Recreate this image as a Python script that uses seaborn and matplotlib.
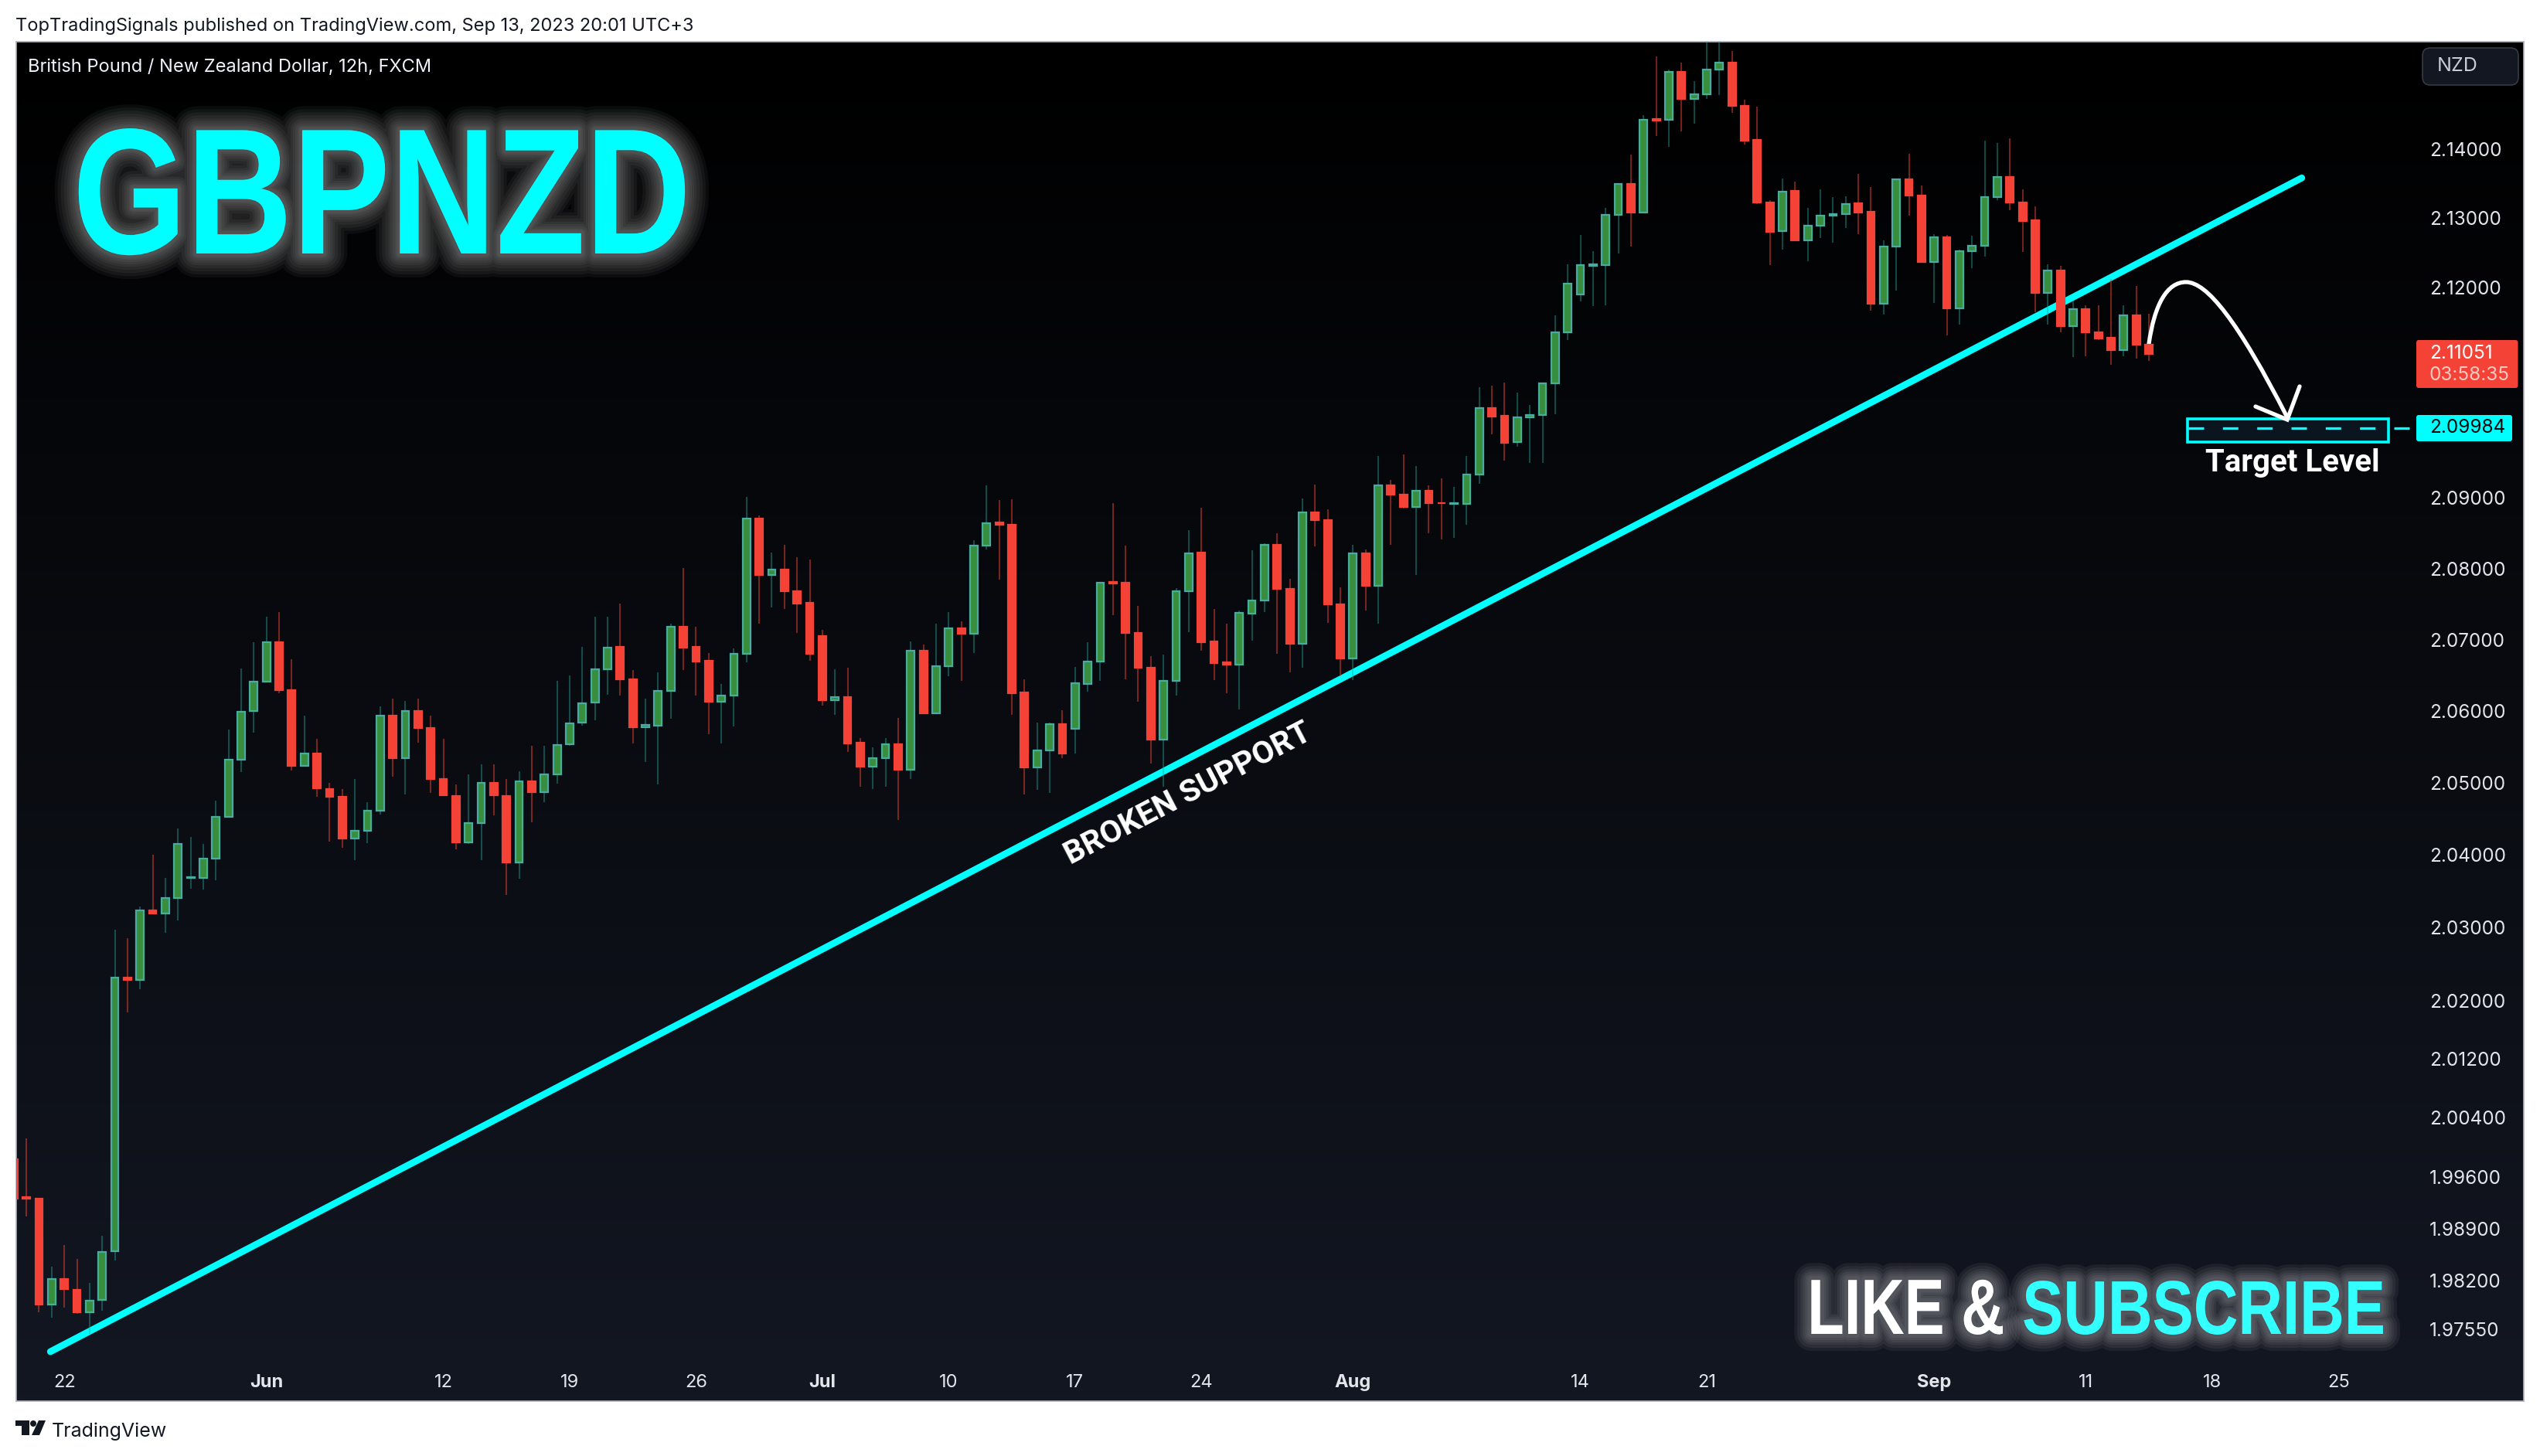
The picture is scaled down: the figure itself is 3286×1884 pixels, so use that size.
#!/usr/bin/env python3
"""GBPNZD 12h candlestick chart with broken support line and target level."""

import matplotlib
matplotlib.use("Agg")
import matplotlib.patheffects as pe
import matplotlib.pyplot as plt
import numpy as np
import seaborn as sns
from matplotlib.patches import FancyBboxPatch, PathPatch, Polygon, Circle, Rectangle
from matplotlib.path import Path
from matplotlib.ticker import NullLocator
from matplotlib.transforms import Affine2D

opens = [
    1.9984, 1.9933, 1.9931, 1.9788, 1.9822, 1.9808, 1.9778, 1.9794, 1.9860, 2.0231,
    2.0228, 2.0324, 2.0320, 2.0341, 2.0368, 2.0369, 2.0395, 2.0453, 2.0532, 2.0600,
    2.0641, 2.0696, 2.0629, 2.0524, 2.0541, 2.0492, 2.0481, 2.0423, 2.0434, 2.0462,
    2.0594, 2.0535, 2.0600, 2.0576, 2.0505, 2.0482, 2.0418, 2.0444, 2.0500, 2.0482,
    2.0390, 2.0502, 2.0487, 2.0512, 2.0554, 2.0584, 2.0612, 2.0659, 2.0690, 2.0644,
    2.0578, 2.0580, 2.0628, 2.0718, 2.0690, 2.0670, 2.0613, 2.0622, 2.0680, 2.0871,
    2.0791, 2.0799, 2.0768, 2.0752, 2.0705, 2.0615, 2.0620, 2.0556, 2.0523, 2.0535,
    2.0554, 2.0518, 2.0685, 2.0597, 2.0663, 2.0716, 2.0708, 2.0832, 2.0865, 2.0862,
    2.0626, 2.0522, 2.0545, 2.0582, 2.0575, 2.0638, 2.0669, 2.0781, 2.0780, 2.0709,
    2.0661, 2.0560, 2.0642, 2.0768, 2.0823, 2.0698, 2.0668, 2.0665, 2.0737, 2.0755,
    2.0834, 2.0771, 2.0694, 2.0879, 2.0868, 2.0750, 2.0674, 2.0822, 2.0776, 2.0918,
    2.0904, 2.0887, 2.0910, 2.0893, 2.0891, 2.0891, 2.0933, 2.1027, 2.1016, 2.0979,
    2.1014, 2.1018, 2.1063, 2.1136, 2.1190, 2.1231, 2.1232, 2.1305, 2.1349, 2.1308,
    2.1443, 2.1442, 2.1512, 2.1473, 2.1479, 2.1515, 2.1525, 2.1462, 2.1413, 2.1323,
    2.1281, 2.1339, 2.1268, 2.1289, 2.1304, 2.1306, 2.1321, 2.1309, 2.1177, 2.1259,
    2.1356, 2.1332, 2.1237, 2.1272, 2.1170, 2.1252, 2.1260, 2.1330, 2.1359, 2.1323,
    2.1297, 2.1192, 2.1224, 2.1145, 2.1169, 2.1136, 2.1128, 2.1110, 2.1160, 2.1118,
]
closes = [
    1.9931, 1.9931, 1.9788, 1.9822, 1.9809, 1.9778, 1.9793, 1.9859, 2.0231, 2.0228,
    2.0324, 2.0319, 2.0341, 2.0416, 2.0370, 2.0395, 2.0453, 2.0532, 2.0599, 2.0641,
    2.0696, 2.0629, 2.0524, 2.0541, 2.0493, 2.0481, 2.0423, 2.0434, 2.0462, 2.0594,
    2.0535, 2.0600, 2.0577, 2.0506, 2.0483, 2.0418, 2.0444, 2.0500, 2.0483, 2.0390,
    2.0502, 2.0487, 2.0512, 2.0553, 2.0583, 2.0611, 2.0659, 2.0689, 2.0644, 2.0578,
    2.0581, 2.0628, 2.0718, 2.0689, 2.0669, 2.0613, 2.0622, 2.0680, 2.0871, 2.0791,
    2.0799, 2.0768, 2.0751, 2.0680, 2.0615, 2.0620, 2.0555, 2.0523, 2.0535, 2.0554,
    2.0518, 2.0685, 2.0597, 2.0663, 2.0716, 2.0708, 2.0832, 2.0864, 2.0862, 2.0625,
    2.0522, 2.0545, 2.0582, 2.0541, 2.0639, 2.0669, 2.0780, 2.0779, 2.0709, 2.0661,
    2.0560, 2.0642, 2.0768, 2.0822, 2.0697, 2.0667, 2.0665, 2.0738, 2.0755, 2.0834,
    2.0771, 2.0694, 2.0879, 2.0868, 2.0750, 2.0674, 2.0822, 2.0776, 2.0918, 2.0904,
    2.0887, 2.0910, 2.0893, 2.0892, 2.0893, 2.0933, 2.1027, 2.1015, 2.0978, 2.1014,
    2.1018, 2.1063, 2.1136, 2.1205, 2.1232, 2.1233, 2.1305, 2.1349, 2.1308, 2.1442,
    2.1441, 2.1512, 2.1473, 2.1479, 2.1515, 2.1525, 2.1462, 2.1412, 2.1323, 2.1280,
    2.1338, 2.1268, 2.1289, 2.1304, 2.1306, 2.1320, 2.1308, 2.1177, 2.1259, 2.1356,
    2.1332, 2.1237, 2.1272, 2.1170, 2.1252, 2.1260, 2.1330, 2.1359, 2.1323, 2.1296,
    2.1192, 2.1224, 2.1145, 2.1169, 2.1136, 2.1127, 2.1110, 2.1160, 2.1118, 2.1105,
]
highs = [
    1.9986, 2.0012, 1.9931, 1.9839, 1.9868, 1.9849, 1.9817, 1.9881, 2.0297, 2.0286,
    2.0329, 2.0400, 2.0369, 2.0437, 2.0425, 2.0415, 2.0475, 2.0574, 2.0660, 2.0696,
    2.0732, 2.0739, 2.0673, 2.0594, 2.0561, 2.0500, 2.0492, 2.0506, 2.0473, 2.0607,
    2.0617, 2.0614, 2.0617, 2.0594, 2.0561, 2.0498, 2.0512, 2.0526, 2.0526, 2.0505,
    2.0516, 2.0552, 2.0552, 2.0642, 2.0650, 2.0690, 2.0732, 2.0732, 2.0751, 2.0658,
    2.0618, 2.0654, 2.0722, 2.0801, 2.0718, 2.0681, 2.0638, 2.0688, 2.0901, 2.0875,
    2.0823, 2.0833, 2.0816, 2.0813, 2.0714, 2.0659, 2.0661, 2.0562, 2.0550, 2.0562,
    2.0591, 2.0698, 2.0693, 2.0722, 2.0739, 2.0726, 2.0840, 2.0918, 2.0897, 2.0898,
    2.0645, 2.0584, 2.0584, 2.0601, 2.0662, 2.0697, 2.0781, 2.0893, 2.0832, 2.0747,
    2.0677, 2.0679, 2.0773, 2.0854, 2.0886, 2.0743, 2.0723, 2.0741, 2.0826, 2.0836,
    2.0850, 2.0786, 2.0899, 2.0919, 2.0884, 2.0774, 2.0834, 2.0827, 2.0959, 2.0925,
    2.0962, 2.0945, 2.0918, 2.0927, 2.0916, 2.0959, 2.1057, 2.1059, 2.1064, 2.1050,
    2.1032, 2.1064, 2.1160, 2.1233, 2.1276, 2.1252, 2.1315, 2.1350, 2.1392, 2.1449,
    2.1534, 2.1515, 2.1526, 2.1499, 2.1565, 2.1565, 2.1542, 2.1472, 2.1461, 2.1326,
    2.1357, 2.1353, 2.1315, 2.1341, 2.1330, 2.1331, 2.1364, 2.1345, 2.1268, 2.1357,
    2.1393, 2.1347, 2.1277, 2.1276, 2.1255, 2.1274, 2.1412, 2.1409, 2.1415, 2.1341,
    2.1317, 2.1233, 2.1231, 2.1181, 2.1175, 2.1175, 2.1212, 2.1175, 2.1202, 2.1162,
]
lows = [
    1.9931, 1.9907, 1.9778, 1.9770, 1.9784, 1.9776, 1.9749, 1.9780, 1.9847, 2.0184,
    2.0215, 2.0319, 2.0293, 2.0310, 2.0354, 2.0352, 2.0365, 2.0453, 2.0515, 2.0570,
    2.0641, 2.0625, 2.0517, 2.0524, 2.0481, 2.0419, 2.0410, 2.0393, 2.0417, 2.0456,
    2.0509, 2.0484, 2.0556, 2.0486, 2.0483, 2.0408, 2.0415, 2.0393, 2.0455, 2.0345,
    2.0367, 2.0445, 2.0473, 2.0499, 2.0552, 2.0580, 2.0587, 2.0623, 2.0622, 2.0555,
    2.0529, 2.0498, 2.0589, 2.0657, 2.0622, 2.0568, 2.0555, 2.0579, 2.0668, 2.0723,
    2.0745, 2.0743, 2.0709, 2.0671, 2.0608, 2.0595, 2.0543, 2.0495, 2.0492, 2.0495,
    2.0449, 2.0506, 2.0597, 2.0596, 2.0649, 2.0642, 2.0681, 2.0827, 2.0784, 2.0595,
    2.0484, 2.0491, 2.0486, 2.0535, 2.0541, 2.0627, 2.0642, 2.0734, 2.0645, 2.0613,
    2.0527, 2.0495, 2.0622, 2.0711, 2.0684, 2.0643, 2.0625, 2.0602, 2.0699, 2.0739,
    2.0680, 2.0654, 2.0661, 2.0831, 2.0724, 2.0649, 2.0643, 2.0741, 2.0723, 2.0834,
    2.0885, 2.0791, 2.0850, 2.0841, 2.0843, 2.0862, 2.0920, 2.0990, 2.0953, 2.0973,
    2.0949, 2.0949, 2.1019, 2.1125, 2.1180, 2.1173, 2.1174, 2.1249, 2.1259, 2.1307,
    2.1419, 2.1403, 2.1426, 2.1437, 2.1473, 2.1478, 2.1452, 2.1406, 2.1320, 2.1232,
    2.1254, 2.1268, 2.1238, 2.1271, 2.1264, 2.1286, 2.1277, 2.1167, 2.1161, 2.1196,
    2.1303, 2.1237, 2.1178, 2.1131, 2.1147, 2.1228, 2.1244, 2.1326, 2.1311, 2.1251,
    2.1164, 2.1147, 2.1136, 2.1100, 2.1101, 2.1125, 2.1089, 2.1101, 2.1098, 2.1095,
]

date_ticks = [4, 20, 34, 44, 54, 64, 74, 84, 94, 106, 124, 134, 152, 164, 174, 184]
date_labels = ["22", "Jun", "12", "19", "26", "Jul", "10", "17", "24", "Aug", "14", "21", "Sep", "11", "18", "25"]
month_labels = ["Jun", "Jul", "Aug", "Sep"]
price_ticks = [2.14, 2.13, 2.12, 2.09, 2.08, 2.07, 2.06, 2.05, 2.04, 2.03, 2.02, 2.012, 2.004, 1.996, 1.989, 1.982, 1.9755]

trend_x = [2.9, 181.1]
trend_y = [1.9725, 2.1358]
target_price = 2.09984
last_price = "2.11051"
countdown = "03:58:35"

W, H = 3286, 1884
CYAN = "#00ffff"
RED = "#f44336"
LABEL = "#e3e5ec"

sns.set_theme(style="dark", rc={"axes.grid": False})
plt.rcParams["font.family"] = ["Inter", "DejaVu Sans"]

fig = plt.figure(figsize=(W / 100, H / 100), dpi=100, facecolor="white")
ax = fig.add_axes([21 / W, 1 - 1813 / H, (3265 - 21) / W, (1813 - 54) / H])

# annotations are placed in image pixels, y pointing down
PX = Affine2D().scale(1, -1).translate(0, H)


def label(x, y, s, **kw):
    return ax.text(x, y, s, transform=PX, clip_on=False, **kw)


class Squeezed(pe.AbstractPathEffect):
    """Runs another path effect with the glyphs squeezed horizontally around x0."""

    def __init__(self, inner, sx, x0):
        super().__init__()
        self.inner = inner
        self.squeeze = Affine2D().translate(-x0, 0).scale(sx, 1).translate(x0, 0)

    def draw_path(self, renderer, gc, tpath, affine, rgbFace=None):
        self.inner.draw_path(renderer, gc, tpath, affine + self.squeeze, rgbFace)


def condensed_glow(text, x0, sx, widths, alpha):
    # no narrow bold family is installed, so squeeze the glyphs and keep them as text
    effects = [pe.Stroke(linewidth=w * 0.72, foreground="white", alpha=alpha) for w in widths]
    effects.append(pe.Normal())
    text.set_path_effects([Squeezed(e, sx, x0) for e in effects])


# background gradient
grad = np.linspace(0, 1, 256)[:, None, None] * np.array([19, 23, 34]) / 255
ax.imshow(grad, extent=(0, 1, 0, 1), origin="upper", transform=ax.transAxes, aspect="auto", zorder=0)

x = np.arange(len(opens))
o, c, hi, lo = map(np.array, (opens, closes, highs, lows))
up = c >= o
ax.set_yscale("log")

sns.lineplot(x=trend_x, y=trend_y, ax=ax, color=CYAN, linewidth=6.3, errorbar=None,
             solid_capstyle="round", zorder=2, legend=False)

ax.vlines(x[up], lo[up], hi[up], color="#26a69a", alpha=0.42, linewidth=1.5, zorder=3)
ax.vlines(x[~up], lo[~up], hi[~up], color=RED, alpha=0.48, linewidth=1.5, zorder=3)

ax.bar(x[up], (c - o)[up], bottom=o[up], width=0.6, color="#388e3c", edgecolor="#48aca0", linewidth=1.6, zorder=4)
ax.bar(x[~up], (o - c)[~up], bottom=c[~up], width=0.6, color=RED, edgecolor=RED, linewidth=1.6, zorder=4)

# target box and dashed level
ax.add_patch(Rectangle((2830, 542), 260, 30, transform=PX, facecolor="#0b1520", edgecolor=CYAN, linewidth=2.6, zorder=5))
ax.plot([172.1, 190.2], [target_price, target_price], color=CYAN, linewidth=2.4, dashes=(6, 7.3),
        dash_capstyle="butt", zorder=6)

# curved arrow, drawn behind the candles
curve = Path(
    [(2780, 445), (2787, 395), (2803, 365), (2828, 365), (2855, 365), (2895, 415), (2959, 540)],
    [Path.MOVETO, Path.CURVE4, Path.CURVE4, Path.CURVE4, Path.CURVE4, Path.CURVE4, Path.CURVE4],
)
ax.add_patch(PathPatch(curve, transform=PX, facecolor="none", edgecolor="white", linewidth=3.8, capstyle="round", zorder=3.5))
head = Path([(2918, 526), (2959, 543), (2975, 500)], [Path.MOVETO, Path.LINETO, Path.LINETO])
ax.add_patch(PathPatch(head, transform=PX, facecolor="none", edgecolor="white", linewidth=3.8, capstyle="round", zorder=5.5))

# axes limits and ticks
ax.set_xlim(0.196, 198.67)
ax.set_ylim(1.9659, 2.1556)
ax.set_xticks(date_ticks, date_labels)
ax.set_yticks(price_ticks, [f"{p:.5f}" for p in price_ticks])
ax.yaxis.set_minor_locator(NullLocator())
ax.yaxis.tick_right()
ax.tick_params(axis="x", length=0, pad=-25, labelsize=17, labelcolor=LABEL)
ax.tick_params(axis="y", length=0, pad=-88, labelsize=17.5, labelcolor=LABEL)
for tick in ax.get_xticklabels():
    if tick.get_text() in month_labels:
        tick.set_fontweight("bold")
ax.set_xlabel("")
ax.set_ylabel("")
for spine in ax.spines.values():
    spine.set_visible(True)
    spine.set_color("#b0b3bd")
    spine.set_linewidth(1.2)

# header and footer
label(20, 34, "TopTradingSignals published on TradingView.com, Sep 13, 2023 20:01 UTC+3",
      fontsize=17, color="#131722", va="center", ha="left")
label(36, 87, "British Pound / New Zealand Dollar, 12h, FXCM", fontsize=17, color="#f0f3fa", va="center", ha="left")
label(67, 1859, "TradingView", fontsize=18, color="#131722", va="baseline", ha="left")
ax.add_patch(Polygon([(20, 1838), (38, 1838), (38, 1857), (28, 1857), (28, 1845), (20, 1845)], transform=PX,
                     facecolor="#131722", edgecolor="none", clip_on=False, zorder=5))
ax.add_patch(Circle((43, 1842), 4, transform=PX, facecolor="#131722", edgecolor="none", clip_on=False, zorder=5))
ax.add_patch(Polygon([(50, 1838), (59, 1838), (51, 1857), (41, 1857)], transform=PX,
                     facecolor="#131722", edgecolor="none", clip_on=False, zorder=5))

# currency chip
ax.add_patch(FancyBboxPatch((3141, 69), 110, 34, boxstyle="round,pad=7,rounding_size=10", transform=PX,
                            facecolor="#131722", edgecolor="#363a45", linewidth=1.2, zorder=5))
label(3153, 86, "NZD", fontsize=18, color="#c9ccd6", va="center", ha="left", zorder=6)

# last price and target price tags
ax.add_patch(FancyBboxPatch((3129, 443), 125.5, 56, boxstyle="round,pad=3,rounding_size=3", transform=PX,
                            facecolor=RED, edgecolor="none", zorder=5, clip_on=False))
label(3143, 458, last_price, fontsize=17.5, color="white", va="center", ha="left", zorder=6)
label(3143, 485, countdown, fontsize=17.5, color="#ffc9c4", va="center", ha="left", zorder=6)
ax.add_patch(FancyBboxPatch((3129, 540), 118, 28, boxstyle="round,pad=3,rounding_size=3", transform=PX,
                            facecolor=CYAN, edgecolor="none", zorder=5, clip_on=False))
label(3143, 554, f"{target_price:.5f}", fontsize=17.5, color="#0a0a0a", va="center", ha="left", zorder=6)

# overlay titles
bold_sans = ["Liberation Sans", "DejaVu Sans"]
title = label(94, 328, "GBPNZD", fontsize=167, fontweight="bold", family=bold_sans, color=CYAN, va="baseline", ha="left", zorder=7)
condensed_glow(title, 94, 0.817, [62, 54, 46, 38, 30, 24, 18, 12, 8], 0.042)

like = label(2228, 1726, "LIKE &", fontsize=73, fontweight="bold", family=bold_sans, color="white", va="baseline", ha="left", zorder=7)
condensed_glow(like, 2703, 0.768, [44, 36, 28, 22, 16, 10], 0.055)
sub = label(2851, 1726, "SUBSCRIBE", fontsize=71, fontweight="bold", family=bold_sans, color="#33ffff", va="baseline", ha="center", zorder=7)
condensed_glow(sub, 2851, 0.809, [44, 36, 28, 22, 16, 10], 0.055)

label(1537, 1027, "BROKEN SUPPORT", fontsize=29.5, fontweight="bold", family=["Roboto", "Open Sans"], color="white",
      rotation=27.5, rotation_mode="anchor", va="center", ha="center", zorder=7)
label(2966, 610, "Target Level", fontsize=29, fontweight="bold", family=["Roboto", "Inter"], color="white", va="baseline", ha="center", zorder=7)

fig.savefig("out.png", dpi=100, facecolor="white")
